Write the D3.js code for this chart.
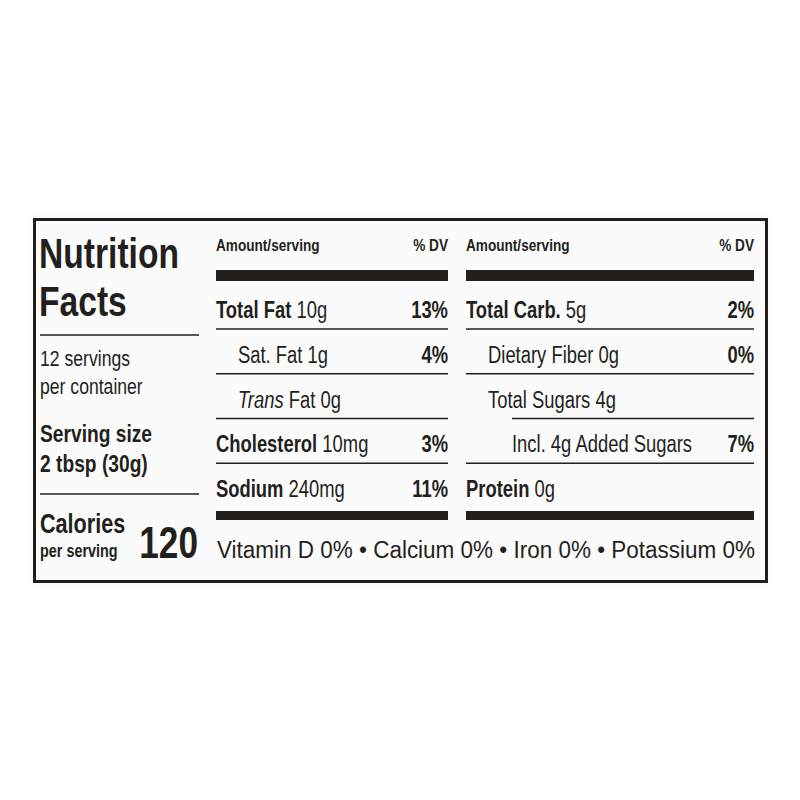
<!DOCTYPE html>
<html>
<head>
<meta charset="utf-8">
<script src="https://cdn.jsdelivr.net/npm/d3@7"></script>
<style>
  body { margin: 0; background: #fff; }
  text { font-family: "Liberation Sans Narrow", "Arial Narrow", "Liberation Sans", sans-serif; fill: #231f1c; }
</style>
</head>
<body>
<div class="label"></div>
<script>
// left column
const titleLines = ["Nutrition", "Facts"];
const servingLines = ["12 servings", "per container"];
const servingSize = ["Serving size", "2 tbsp (30g)"];
const calories = 120;

// middle column
const leftNames = ["Total Fat", "Sat. Fat", "Trans Fat", "Cholesterol", "Sodium"];
const leftAmounts = ["10g", "1g", "0g", "10mg", "240mg"];
const leftDV = ["13%", "4%", "", "3%", "11%"];
const leftIndent = [0, 1, 1, 0, 0];

// right column
const rightNames = ["Total Carb.", "Dietary Fiber", "Total Sugars", "Incl. 4g Added Sugars", "Protein"];
const rightAmounts = ["5g", "0g", "4g", "", "0g"];
const rightDV = ["2%", "0%", "", "7%", ""];
const rightIndent = [0, 1, 1, 2, 0];

const footer = "Vitamin D 0% \u2022 Calcium 0% \u2022 Iron 0% \u2022 Potassium 0%";

const W = 800, H = 800;
const ink = "#231f1c";
const svg = d3.select(".label").append("svg").attr("width", W).attr("height", H);

// row scale: index -> baseline of the text
const rowY = d3.scaleLinear().domain([0, 4]).range([318, 497]);

// panel + border
svg.append("rect").attr("x", 30).attr("y", 215).attr("width", 742).attr("height", 370).attr("fill", "#fbfbfb");
svg.append("rect").attr("x", 34.5).attr("y", 219.5).attr("width", 732).attr("height", 362)
  .attr("fill", "none").attr("stroke", ink).attr("stroke-width", 3);

// left column
const lg = svg.append("g");
lg.selectAll(".title").data(titleLines).enter().append("text")
  .attr("x", 39).attr("y", (d, i) => 268 + i * 48)
  .attr("font-size", 42).attr("font-weight", "bold").text(d => d);
lg.append("line").attr("x1", 40).attr("x2", 199).attr("y1", 335).attr("y2", 335).attr("stroke", ink).attr("stroke-width", 1.5);
lg.selectAll(".serv").data(servingLines).enter().append("text")
  .attr("x", 40).attr("y", (d, i) => 366 + i * 28)
  .attr("font-size", 22).text(d => d);
lg.selectAll(".size").data(servingSize).enter().append("text")
  .attr("x", 40).attr("y", (d, i) => 442 + i * 30)
  .attr("font-size", 24).attr("font-weight", "bold").text(d => d);
lg.append("line").attr("x1", 40).attr("x2", 199).attr("y1", 494).attr("y2", 494).attr("stroke", ink).attr("stroke-width", 1.5);
lg.append("text").attr("x", 40).attr("y", 533).attr("font-size", 27).attr("font-weight", "bold").text("Calories");
lg.append("text").attr("x", 40).attr("y", 557).attr("font-size", 18).attr("font-weight", "bold").text("per serving");
lg.append("text").attr("x", 198).attr("y", 558).attr("text-anchor", "end")
  .attr("font-size", 44).attr("font-weight", "bold").text(calories);

function column(x0, x1, names, amounts, dv, indent, lineStarts) {
  const g = svg.append("g");
  g.append("text").attr("x", x0).attr("y", 251).attr("font-size", 17).attr("font-weight", "bold").text("Amount/serving");
  g.append("text").attr("x", x1).attr("y", 251).attr("text-anchor", "end").attr("font-size", 17).attr("font-weight", "bold").text("% DV");
  g.append("rect").attr("x", x0).attr("y", 270).attr("width", x1 - x0).attr("height", 11).attr("fill", ink);
  g.append("rect").attr("x", x0).attr("y", 511).attr("width", x1 - x0).attr("height", 9).attr("fill", ink);
  g.selectAll("line").data(d3.range(4)).enter().append("line")
    .attr("x1", i => lineStarts[i]).attr("x2", x1)
    .attr("y1", i => rowY(i) + 11).attr("y2", i => rowY(i) + 11)
    .attr("stroke", ink).attr("stroke-width", 1.5);
  names.forEach((n, i) => {
    const t = g.append("text").attr("x", x0 + [0, 22, 46][indent[i]])
      .attr("y", rowY(i)).attr("font-size", 23);
    if (n === "Trans Fat") {
      t.append("tspan").attr("font-style", "italic").text("Trans");
      t.append("tspan").text(" Fat");
    } else {
      t.append("tspan").attr("font-weight", indent[i] === 0 ? "bold" : "normal").text(n);
    }
    if (amounts[i]) t.append("tspan").text(" " + amounts[i]);
    if (dv[i]) g.append("text").attr("x", x1).attr("y", rowY(i)).attr("text-anchor", "end")
      .attr("font-size", 23).attr("font-weight", "bold").text(dv[i]);
  });
}
column(216, 448, leftNames, leftAmounts, leftDV, leftIndent, [216, 216, 216, 216]);
column(466, 754, rightNames, rightAmounts, rightDV, rightIndent, [466, 466, 512, 466]);

svg.append("text").attr("x", 217).attr("y", 558).attr("font-size", 23).attr("class", "footer").text(footer);

// condense every text to mimic the narrow label typeface
svg.selectAll("text").each(function () {
  const el = d3.select(this);
  const len = this.getComputedTextLength();
  const k = el.classed("footer") ? 538 / len : 0.8;
  el.attr("textLength", len * k).attr("lengthAdjust", "spacingAndGlyphs");
});
</script>
</body>
</html>
